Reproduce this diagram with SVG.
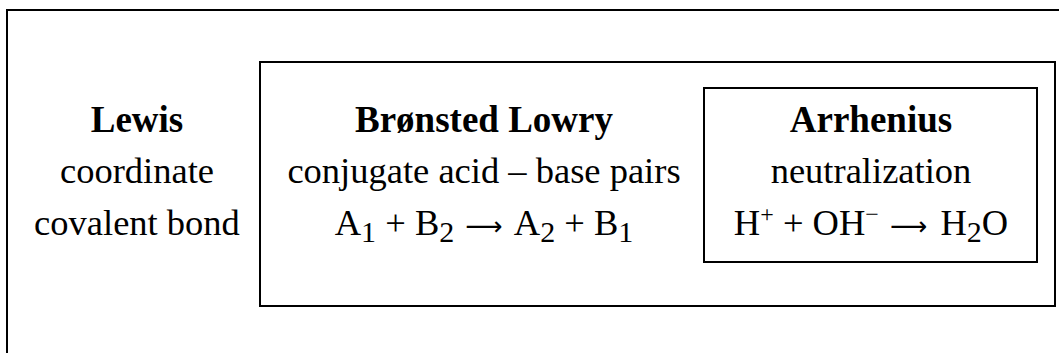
<svg xmlns="http://www.w3.org/2000/svg" width="1059" height="353" viewBox="0 0 1059 353">
<style>
.box{fill:none;stroke:#000;stroke-width:2}
text{font-family:"Liberation Serif","Times New Roman",serif;fill:#000;text-anchor:middle;font-size:36.5px}
.t{font-weight:bold;font-size:37px}
.sub{font-size:30px}
.sup{font-size:24px}
.arr{font-family:"DejaVu Sans",sans-serif;font-size:26px}
</style>
<rect x="0" y="0" width="1059" height="353" fill="#fff"/>
<g id="outer">
<rect class="box" x="7" y="10" width="1070" height="360"/>
</g>
<g id="lewis">
<text class="t" x="137" y="132">Lewis</text>
<text x="137" y="183">coordinate</text>
<text x="137" y="235">covalent bond</text>
</g>
<g id="bronsted">
<rect class="box" x="260" y="62" width="795" height="244"/>
<text class="t" x="484" y="132">Brønsted Lowry</text>
<text x="484" y="183">conjugate acid – base pairs</text>
<text x="484" y="235">A<tspan class="sub" dy="7">1</tspan><tspan dy="-7"> + B</tspan><tspan class="sub" dy="7">2</tspan><tspan dy="-7"> </tspan><tspan class="arr" dx="2">⟶</tspan><tspan dx="4"> A</tspan><tspan class="sub" dy="7">2</tspan><tspan dy="-7"> + B</tspan><tspan class="sub" dy="7">1</tspan></text>
</g>
<g id="arrhenius">
<rect class="box" x="704" y="88" width="333" height="174"/>
<text class="t" x="871" y="132">Arrhenius</text>
<text x="871" y="183">neutralization</text>
<text x="871" y="235">H<tspan class="sup" dy="-13">+</tspan><tspan dy="13"> + OH</tspan><tspan class="sup" dy="-13">−</tspan><tspan dy="13"> </tspan><tspan class="arr" dx="2">⟶</tspan><tspan dx="4"> H</tspan><tspan class="sub" dy="7">2</tspan><tspan dy="-7">O</tspan></text>
</g>
<g id="connectors"></g>
</svg>
